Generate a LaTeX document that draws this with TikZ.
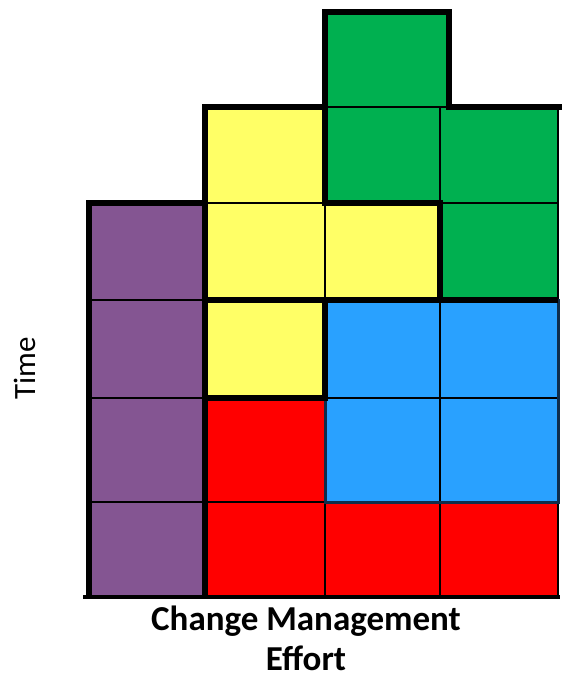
\documentclass[tikz,border=0pt]{standalone}
\usepackage{fontspec}
\setmainfont{Carlito}
\definecolor{cpurple}{RGB}{132,85,146}
\definecolor{cyellow}{RGB}{255,255,102}
\definecolor{cgreen}{RGB}{0,176,80}
\definecolor{cblue}{RGB}{41,161,255}
\definecolor{cred}{RGB}{255,0,0}
\definecolor{cnavy}{RGB}{15,45,75}
\begin{document}
\begin{tikzpicture}[x=1pt,y=-1pt,
  cell/.style={draw=black,line width=1.6pt},
  piece/.style={draw=black,line width=6pt,line join=miter},
  lbl/.style={inner sep=0pt,text=black}]
\useasboundingbox (0,0) rectangle (562,675);
% purple column
\foreach \ya/\yb in {203/300,300/398,398/502,502/596}
  \filldraw[cell,fill=cpurple] (88,\ya) rectangle (205,\yb);
% yellow
\foreach \xa/\xb/\ya/\yb in {205/325/107/203,205/325/203/300,205/325/300/398,325/440/203/300}
  \filldraw[cell,fill=cyellow] (\xa,\ya) rectangle (\xb,\yb);
% green
\foreach \xa/\xb/\ya/\yb in {325/449/12/107,325/440/107/203,440/558/107/203,440/558/203/300}
  \filldraw[cell,fill=cgreen] (\xa,\ya) rectangle (\xb,\yb);
% blue
\foreach \xa/\xb/\ya/\yb in {325/440/300/398,440/558/300/398,325/440/398/502,440/558/398/502}
  \filldraw[cell,fill=cblue] (\xa,\ya) rectangle (\xb,\yb);
% red
\foreach \xa/\xb/\ya/\yb in {205/325/398/502,205/325/502/596,325/440/502/596,440/558/502/596}
  \filldraw[cell,fill=cred] (\xa,\ya) rectangle (\xb,\yb);
% piece outlines
\draw[draw=cnavy,line width=3pt] (325,300) rectangle (558,502);
\draw[piece] (89,596) -- (89,203) -- (205,203) -- (205,596);
\draw[piece] (205,398) -- (205,107) -- (325,107) -- (325,203) -- (440,203) -- (440,300) -- (325,300) -- (325,398) -- cycle;
\draw[piece] (205,300) -- (325,300);
\draw[piece] (325,203) -- (325,12) -- (449,12) -- (449,107) -- (562,107);
\draw[piece] (440,203) -- (440,300) -- (558,300);
\draw[line width=3.5pt] (83,597) -- (560,597);
% labels
\node[lbl,rotate=90,font=\fontsize{31}{37}\selectfont] (time) at (25,368) {Time};
\node[lbl,anchor=base,font=\fontsize{35}{42}\bfseries] (eff1) at (306,630) {Change Management};
\node[lbl,anchor=base,font=\fontsize{35}{42}\bfseries] (eff2) at (306,670) {Effort};
\end{tikzpicture}
\end{document}
